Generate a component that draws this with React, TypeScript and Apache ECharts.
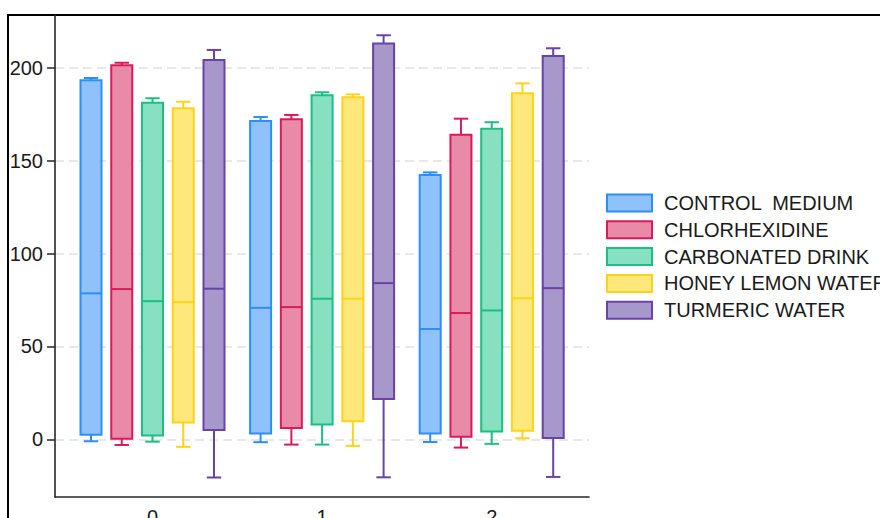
import React, { useEffect, useRef } from "react";
import * as echarts from "echarts";

// ---- data ----
const groupLabels = ["0", "1", "2"];
const groupPositions = [0, 1, 2];
const seriesNames = [
  "CONTROL  MEDIUM",
  "CHLORHEXIDINE",
  "CARBONATED DRINK",
  "HONEY LEMON WATER",
  "TURMERIC WATER",
];
// each entry: [min, q1, median, q3, max] for groups 0, 1, 2
const controlMedium = [
  [-1.0, 2.5, 78.6, 193.3, 194.5],
  [-1.5, 3.2, 70.8, 171.4, 173.5],
  [-1.4, 3.2, 59.4, 142.3, 143.7],
];
const chlorhexidine = [
  [-3.0, 0.3, 80.9, 201.3, 202.7],
  [-2.8, 6.2, 71.2, 172.3, 174.6],
  [-4.4, 1.4, 68.0, 164.0, 172.6],
];
const carbonatedDrink = [
  [-1.2, 2.1, 74.4, 181.2, 183.6],
  [-2.8, 8.0, 75.7, 185.2, 186.8],
  [-2.4, 4.3, 69.4, 167.2, 170.7],
];
const honeyLemonWater = [
  [-4.0, 9.1, 73.9, 178.2, 181.7],
  [-3.5, 9.8, 75.7, 184.1, 185.7],
  [0.6, 4.6, 76.0, 186.3, 191.6],
];
const turmericWater = [
  [-20.5, 5.0, 81.1, 204.2, 209.6],
  [-20.4, 21.7, 84.1, 213.0, 217.5],
  [-20.2, 0.8, 81.4, 206.3, 210.5],
];
const seriesValues = [controlMedium, chlorhexidine, carbonatedDrink, honeyLemonWater, turmericWater];
const yTickValues = [0, 50, 100, 150, 200];

// ---- styles ----
const fills = ["#8FC1FB", "#E98AA8", "#86E0C1", "#FEE77B", "#A897CB"];
const strokes = ["#2E8EF7", "#D91B5B", "#1CBE82", "#FFD31A", "#6843A6"];
const PITCH = 0.1813; // box spacing as fraction of a group's band
const BOX_W = 0.1238;
const CAP_W = 0.085;
const FONT = "'Liberation Sans', Arial, sans-serif";

export default function App() {
  const ref = useRef<HTMLDivElement>(null);
  useEffect(() => {
    if (!ref.current) return;
    const chart = echarts.init(ref.current, undefined, { renderer: "svg" });
    const n = seriesNames.length;
    const series = seriesNames.map((name, i) => ({
      name,
      type: "custom",
      itemStyle: { color: fills[i], borderColor: strokes[i], borderWidth: 2 },
      encode: { x: 0, y: [1, 2, 3, 4, 5] },
      data: seriesValues[i].map((v, g) => [groupPositions[g], ...v]),
      renderItem: (params: any, api: any) => {
        const gx = api.value(0);
        const band = api.size([1, 0])[0];
        const base = api.coord([gx, 0]);
        const cx = base[0] + (i - (n - 1) / 2) * band * PITCH;
        const hw = (band * BOX_W) / 2;
        const cw = (band * CAP_W) / 2;
        const y = (k: number) => api.coord([gx, api.value(k)])[1];
        const yMin = y(1), yQ1 = y(2), yMed = y(3), yQ3 = y(4), yMax = y(5);
        const ls = { stroke: strokes[i], lineWidth: 2, fill: null };
        return {
          type: "group",
          children: [
            { type: "line", shape: { x1: cx, y1: yQ3, x2: cx, y2: yMax }, style: ls },
            { type: "line", shape: { x1: cx - cw, y1: yMax, x2: cx + cw, y2: yMax }, style: ls },
            { type: "line", shape: { x1: cx, y1: yQ1, x2: cx, y2: yMin }, style: ls },
            { type: "line", shape: { x1: cx - cw, y1: yMin, x2: cx + cw, y2: yMin }, style: ls },
            {
              type: "rect",
              shape: { x: cx - hw, y: yQ3, width: hw * 2, height: yQ1 - yQ3 },
              style: { fill: fills[i], stroke: strokes[i], lineWidth: 2 },
            },
            { type: "line", shape: { x1: cx - hw, y1: yMed, x2: cx + hw, y2: yMed }, style: ls },
          ],
        };
      },
    }));

    chart.setOption({
      animation: false,
      backgroundColor: "#ffffff",
      textStyle: { fontFamily: FONT },
      grid: {
        left: 55,
        right: 291,
        top: 15,
        bottom: 21,
        containLabel: false,
        outerBoundsMode: "none",
      },
      xAxis: {
        type: "value",
        min: -0.5749,
        max: 2.5737,
        axisLine: { show: true, onZero: false, lineStyle: { color: "#262626", width: 1.6 } },
        axisTick: { show: false },
        splitLine: { show: false },
        axisLabel: {
          customValues: groupPositions,
          formatter: (v: number) => groupLabels[Math.round(v)] ?? "",
          fontSize: 20,
          color: "#1a1a1a",
          margin: 10,
          fontFamily: FONT,
        },
      },
      yAxis: {
        type: "value",
        min: -31,
        max: 228.4,
        axisLine: { show: true, onZero: false, lineStyle: { color: "#262626", width: 1.6 } },
        axisTick: {
          show: true,
          length: 8,
          customValues: yTickValues,
          lineStyle: { color: "#262626", width: 1.5 },
        },
        axisLabel: {
          customValues: yTickValues,
          fontSize: 20,
          color: "#1a1a1a",
          margin: 12,
          fontFamily: FONT,
        },
        splitLine: {
          show: true,
          lineStyle: { color: "#e8e8e8", width: 2, type: [9, 5] },
        },
      },
      legend: {
        orient: "vertical",
        left: 606,
        top: 193,
        padding: 0,
        itemWidth: 45,
        itemHeight: 17,
        itemGap: 6.8,
        selectedMode: false,
        icon: "rect",
        textStyle: {
          fontSize: 20,
          lineHeight: 20,
          color: "#1a1a1a",
          fontFamily: FONT,
          padding: [0, 0, 0, 7],
        },
        data: seriesNames.map((name, i) => ({
          name,
          icon: "rect",
          itemStyle: { color: fills[i], borderColor: strokes[i], borderWidth: 2 },
        })),
      },
      graphic: [
        { type: "line", shape: { x1: 7, y1: 15, x2: 880, y2: 15 }, style: { stroke: "#000", lineWidth: 2 } },
        { type: "line", shape: { x1: 8, y1: 15, x2: 8, y2: 518 }, style: { stroke: "#000", lineWidth: 2 } },
      ],
      series,
    });
    return () => chart.dispose();
  }, []);
  return (
    <div
      ref={ref}
      style={{ position: "absolute", left: 0, top: 0, width: 880, height: 518 }}
    />
  );
}
